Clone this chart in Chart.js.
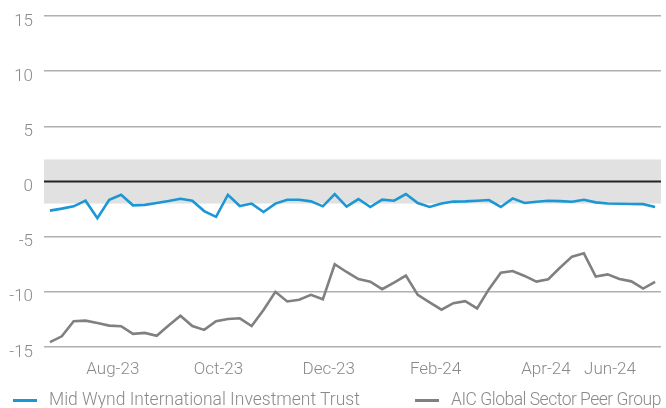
<!DOCTYPE html>
<html>
<head>
<meta charset="utf-8">
<script src="https://cdn.jsdelivr.net/npm/chart.js@4"></script>
<style>
  html, body { margin: 0; padding: 0; background: #fff; }
  #wrap { position: relative; width: 666px; height: 408px; }
  #chart { display: block; }
  #legend { position: absolute; left: 13px; top: 389px; font: 300 17.5px Roboto, sans-serif; line-height: 20px; color: #8a8a8a; white-space: nowrap; }
  #legend span.item { position: absolute; top: 0; }
  #legend span.item + span.item { letter-spacing: -0.5px; }
  #legend i { display: inline-block; width: 24px; height: 3px; vertical-align: middle; margin-right: 12px; }
</style>
</head>
<body>
<div id="wrap">
  <canvas id="chart" width="666" height="408"></canvas>
  <div id="legend"></div>
</div>
<script>
// Weekly discount (%) figures, Jul-23 to Jun-24
const seriesNames = ['Mid Wynd International Investment Trust', 'AIC Global Sector Peer Group'];
const seriesColors = ['#1b97d5', '#808080'];

const midWynd = [
  -2.64, -2.46, -2.25, -1.74, -3.33, -1.65, -1.2, -2.16, -2.12, -1.95,
  -1.77, -1.56, -1.74, -2.68, -3.2, -1.2, -2.22, -2.0, -2.76, -2.0,
  -1.65, -1.65, -1.8, -2.25, -1.15, -2.28, -1.59, -2.31, -1.65, -1.74,
  -1.14, -1.95, -2.31, -2.0, -1.82, -1.8, -1.74, -1.68, -2.31, -1.53,
  -1.95, -1.83, -1.75, -1.78, -1.83, -1.65, -1.89, -2.0, -2.02, -2.04,
  -2.05, -2.31
];
const peerGroup = [
  -14.56, -14.03, -12.67, -12.61, -12.82, -13.06, -13.12, -13.81, -13.72, -13.98,
  -13.06, -12.16, -13.1, -13.45, -12.67, -12.46, -12.4, -13.1, -11.65, -10.0,
  -10.87, -10.72, -10.27, -10.68, -7.5, -8.2, -8.85, -9.08, -9.76, -9.16,
  -8.53, -10.27, -10.96, -11.62, -11.03, -10.85, -11.5, -9.76, -8.26, -8.11,
  -8.56, -9.07, -8.86, -7.8, -6.81, -6.51, -8.61, -8.42, -8.83, -9.05,
  -9.7, -9.1
];

// where the month labels sit, in weeks from the first point
const tickNames = ['Aug-23', 'Oct-23', 'Dec-23', 'Feb-24', 'Apr-24', 'Jun-24'];
const tickWeeks = [5.3, 14.2, 23.5, 32.5, 41.8, 47.2];
const bandRange = [-2, 2];

const toPoints = arr => arr.map((v, i) => ({ x: i, y: v }));

const bandPlugin = {
  id: 'band',
  beforeDatasetsDraw(chart) {
    const { ctx, chartArea, scales } = chart;
    const top = scales.y.getPixelForValue(bandRange[1]);
    const bottom = scales.y.getPixelForValue(bandRange[0]);
    ctx.save();
    ctx.fillStyle = '#e1e1e1';
    ctx.fillRect(chartArea.left, top, chartArea.right - chartArea.left, bottom - top);
    // zero line back on top of the band
    const zero = scales.y.getPixelForValue(0);
    ctx.strokeStyle = '#222';
    ctx.lineWidth = 2;
    ctx.beginPath();
    ctx.moveTo(chartArea.left, zero);
    ctx.lineTo(chartArea.right, zero);
    ctx.stroke();
    ctx.restore();
  }
};

const tickFont = { family: 'Roboto', size: 17, weight: 300 };
// y labels sit a little under their gridline: empty first line pushes them down
const yTickFont = { family: 'Roboto', size: 17, weight: 300, lineHeight: 0.62 };

new Chart(document.getElementById('chart'), {
  type: 'line',
  data: {
    datasets: [
      { label: seriesNames[0], data: toPoints(midWynd), borderColor: seriesColors[0], borderWidth: 2.6, pointRadius: 0, tension: 0 },
      { label: seriesNames[1], data: toPoints(peerGroup), borderColor: seriesColors[1], borderWidth: 2.6, pointRadius: 0, tension: 0 }
    ]
  },
  options: {
    responsive: false,
    animation: false,
    layout: { padding: { top: 16, right: 5, bottom: 31, left: 0 } },
    plugins: { legend: { display: false }, tooltip: { enabled: false } },
    scales: {
      x: {
        type: 'linear',
        min: -0.5,
        max: midWynd.length - 0.5,
        grid: { display: false },
        border: { display: false },
        afterBuildTicks(scale) { scale.ticks = tickWeeks.map(v => ({ value: v })); },
        ticks: {
          autoSkip: false, maxRotation: 0, color: '#8a8a8a', font: tickFont, padding: 5,
          callback: (v, i) => tickNames[i]
        },
        afterFit(scale) { scale.height = 30; }
      },
      y: {
        min: -15,
        max: 15,
        border: { display: false },
        grid: {
          drawTicks: false,
          color: ctx => ctx.tick.value === 0 ? '#222' : '#b0b0b0',
          lineWidth: ctx => ctx.tick.value === 0 ? 2 : 1.5
        },
        ticks: {
          stepSize: 5, color: '#8a8a8a', font: yTickFont, padding: 11,
          callback: v => ['', String(v)]
        },
        afterFit(scale) {
          scale.width = 44;
          scale.paddingTop = 0;
          scale.paddingBottom = 0;
        }
      }
    }
  },
  plugins: [bandPlugin]
});

// legend below the chart
const legend = document.getElementById('legend');
const legendX = [0, 402];
seriesNames.forEach((name, i) => {
  const item = document.createElement('span');
  item.className = 'item';
  item.style.left = legendX[i] + 'px';
  item.innerHTML = '<i style="background:' + seriesColors[i] + '"></i>' + name;
  legend.appendChild(item);
});
</script>
</body>
</html>
